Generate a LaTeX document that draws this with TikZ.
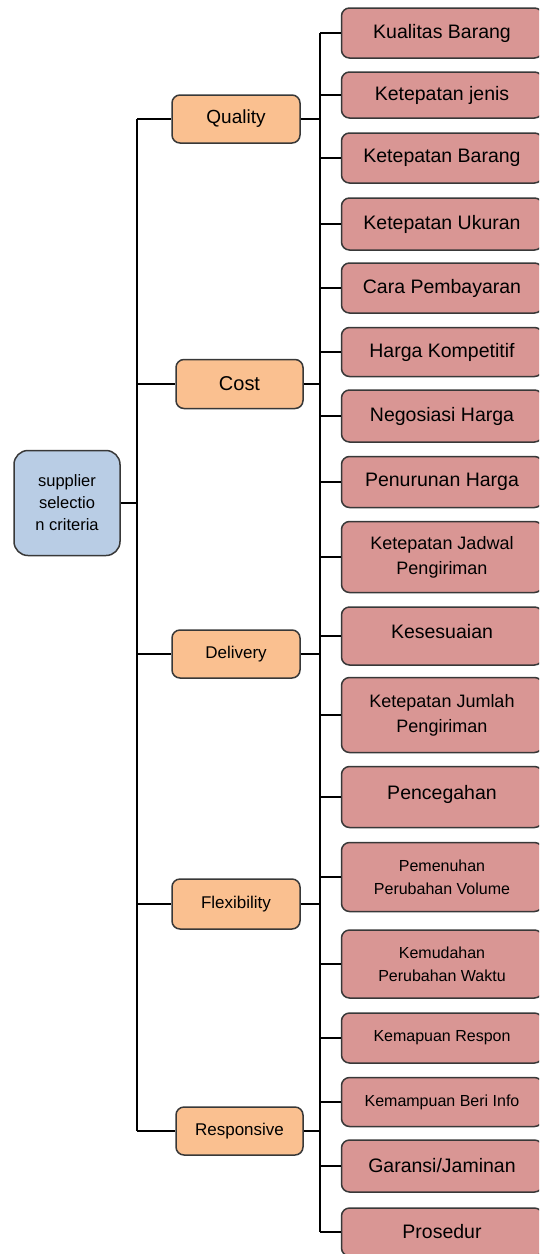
\documentclass[tikz,border=0pt]{standalone}
\usepackage{fontspec}
\setmainfont{Liberation Sans}
\definecolor{leafred}{HTML}{D99694}
\definecolor{midorange}{HTML}{FAC090}
\definecolor{rootblue}{HTML}{B9CDE5}
\definecolor{boxline}{HTML}{383838}
\begin{document}
\begin{tikzpicture}[x=1pt, y=-1pt,
	box/.style={draw=boxline, line width=1.5pt, rounded corners=8pt, inner sep=2pt, align=center},
	rootbox/.style={box, fill=rootblue, rounded corners=14pt, minimum width=106pt, minimum height=105pt, font=\fontsize{16.5}{22}\selectfont},
	midbox/.style={box, fill=midorange, minimum width=128pt, minimum height=48pt, font=\fontsize{17}{20}\selectfont},
	leafbox/.style={box, fill=leafred, minimum width=201pt, font=\fontsize{19.5}{25}\selectfont},
	smalltext/.style={font=\fontsize{16}{23}\selectfont},
	twoline/.style={font=\fontsize{18}{25}\selectfont},
	raised/.style={text depth=10pt},
	link/.style={line width=1.6pt}]
	\useasboundingbox (0, 0) rectangle (539, 1254);
	\clip (0, 0) rectangle (539, 1254);
	\coordinate (lt) at (137, 0);
	\coordinate (rt) at (320, 0);
	% root and criteria
	\node[rootbox] (root) at (67, 503) {supplier\\selectio\\n criteria};
	\node[midbox] (quality) at (236, 119) {\fontsize{19}{20}\selectfont Quality};
	\node[midbox, minimum width=127pt, minimum height=49pt] (cost) at (239.5, 384) {\fontsize{20}{20}\selectfont Cost};
	\node[midbox] (delivery) at (236, 654) {Delivery};
	\node[midbox, minimum height=50pt] (flexibility) at (236, 904) {Flexibility};
	\node[midbox, minimum width=127pt] (responsive) at (239.5, 1131) {Responsive};
	% sub criteria
	\node[leafbox, minimum height=50pt] (k1) at (442, 33) {Kualitas Barang};
	\node[leafbox, minimum height=46pt] (k2) at (442, 95) {Ketepatan jenis};
	\node[leafbox, minimum height=50pt] (k3) at (442, 158) {Ketepatan Barang};
	\node[leafbox, minimum height=52pt] (k4) at (442, 224) {Ketepatan Ukuran};
	\node[leafbox, minimum height=50pt] (k5) at (442, 288) {Cara Pembayaran};
	\node[leafbox, minimum height=49pt] (k6) at (442, 352) {Harga Kompetitif};
	\node[leafbox, minimum height=52pt] (k7) at (442, 416) {Negosiasi Harga};
	\node[leafbox, minimum height=51pt] (k8) at (442, 482) {Penurunan Harga};
	\node[leafbox, twoline, minimum height=71pt] (k9) at (442, 557) {Ketepatan Jadwal\\Pengiriman};
	\node[leafbox, raised, minimum height=58pt] (k10) at (442, 636) {Kesesuaian};
	\node[leafbox, twoline, minimum height=75pt] (k11) at (442, 715) {Ketepatan Jumlah\\Pengiriman};
	\node[leafbox, raised, minimum height=61pt] (k12) at (442, 797) {Pencegahan};
	\node[leafbox, smalltext, minimum height=69pt] (k13) at (442, 877) {Pemenuhan\\Perubahan Volume};
	\node[leafbox, smalltext, minimum height=68pt] (k14) at (442, 964) {Kemudahan\\Perubahan Waktu};
	\node[leafbox, smalltext, minimum height=50pt] (k15) at (442, 1038) {Kemapuan Respon};
	\node[leafbox, smalltext, minimum height=49pt] (k16) at (442, 1102) {Kemampuan Beri Info};
	\node[leafbox, minimum height=52pt] (k17) at (442, 1166) {Garansi/Jaminan};
	\node[leafbox, minimum height=48pt] (k18) at (442, 1232) {Prosedur};
	% connectors
	\draw[link] (root.east) -- (root.east -| lt);
	\draw[link] (quality.west -| lt) -- (responsive.west -| lt);
	\foreach \c in {quality, cost, delivery, flexibility, responsive} {
		\draw[link] (\c.west -| lt) -- (\c.west);
		\draw[link] (\c.east) -- (\c.east -| rt);
	}
	\draw[link] (k1.west -| rt) -- (k18.west -| rt);
	\foreach \k in {1, ..., 18}
		\draw[link] (k\k.west -| rt) -- (k\k.west);
\end{tikzpicture}
\end{document}
